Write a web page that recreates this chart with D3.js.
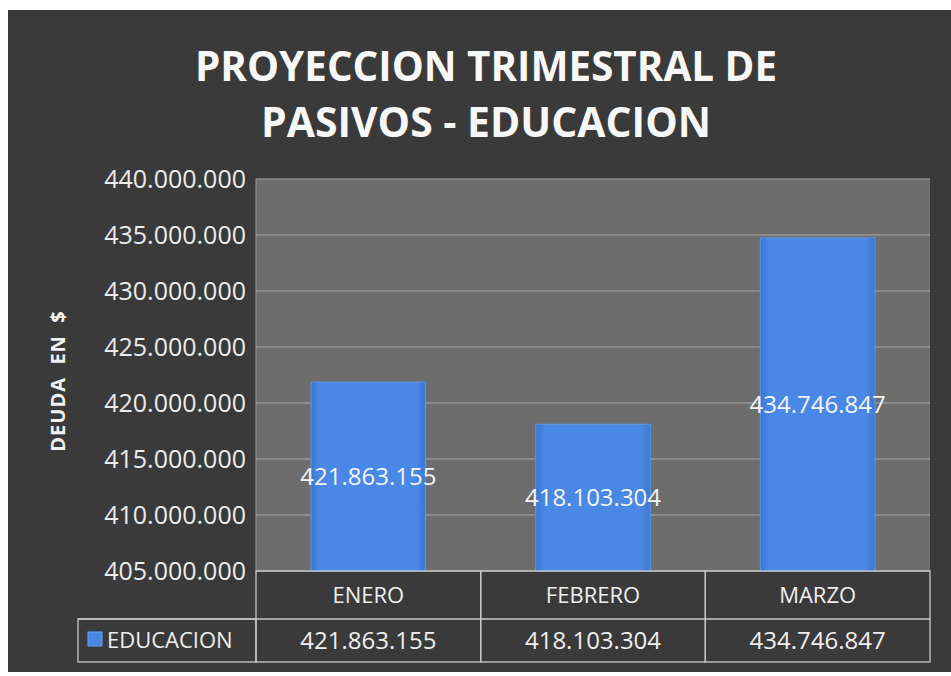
<!DOCTYPE html>
<html>
<head>
<meta charset="utf-8" />
<title>Proyeccion trimestral de pasivos</title>
<script src="https://d3js.org/d3.v7.min.js"></script>
<style>
  body { margin: 0; background: #fff; }
  text { font-family: "Open Sans", sans-serif; }
</style>
</head>
<body>
<div id="chart"></div>
<script>
  // data
  var months = ["ENERO", "FEBRERO", "MARZO"];
  var values = [421863155, 418103304, 434746847];
  var seriesName = "EDUCACION";
  var yTicks = [405000000, 410000000, 415000000, 420000000, 425000000, 430000000, 435000000, 440000000];
  var titleLines = ["PROYECCION TRIMESTRAL DE", "PASIVOS - EDUCACION"];
  var yTitle = "DEUDA  EN  $";

  var W = 951, H = 676;
  var plot = { left: 256, right: 930, top: 179, bottom: 571 };

  var fmt = d3.formatLocale({ decimal: ",", thousands: ".", grouping: [3], currency: ["$", ""] }).format(",d");

  var svg = d3.select("#chart").append("svg")
    .attr("width", W).attr("height", H);

  var defs = svg.append("defs");
  var grad = defs.append("linearGradient").attr("id", "barGrad")
    .attr("x1", 0).attr("x2", 1).attr("y1", 0).attr("y2", 0);
  grad.append("stop").attr("offset", "0%").attr("stop-color", "#3b78d6");
  grad.append("stop").attr("offset", "8%").attr("stop-color", "#4a88e6");
  grad.append("stop").attr("offset", "92%").attr("stop-color", "#4a88e6");
  grad.append("stop").attr("offset", "100%").attr("stop-color", "#3b78d6");

  // background
  svg.append("rect").attr("x", 8).attr("y", 10).attr("width", W - 8).attr("height", 662)
    .attr("fill", "#3a3a3a");

  var x = d3.scaleBand().domain(months).range([plot.left, plot.right]).padding(0);
  var y = d3.scaleLinear().domain([405000000, 440000000]).range([plot.bottom, plot.top]);

  svg.append("rect")
    .attr("x", plot.left).attr("y", plot.top)
    .attr("width", plot.right - plot.left).attr("height", plot.bottom - plot.top)
    .attr("fill", "#6d6d6d");

  // grid
  svg.append("g").selectAll("line").data(yTicks).join("line")
    .attr("x1", plot.left).attr("x2", plot.right)
    .attr("y1", d => y(d)).attr("y2", d => y(d))
    .attr("stroke", "#a9a9a9").attr("stroke-width", 1.2);

  svg.append("line").attr("x1", plot.left).attr("x2", plot.left)
    .attr("y1", plot.top).attr("y2", plot.bottom)
    .attr("stroke", "#9a9a9a");

  // y axis labels
  svg.append("g").selectAll("text").data(yTicks).join("text")
    .attr("x", 246).attr("y", d => y(d))
    .attr("dy", "0.36em")
    .attr("text-anchor", "end")
    .attr("fill", "#ececec")
    .style("font-size", "25px")
    .text(d => fmt(d));

  // axis title
  svg.append("text")
    .attr("transform", "translate(65,381) rotate(-90)")
    .attr("text-anchor", "middle")
    .attr("fill", "#f2f2f2")
    .style("font-size", "20px")
    .style("font-weight", "700")
    .style("letter-spacing", "1px")
    .style("white-space", "pre")
    .text(yTitle);

  // bars
  var barW = x.bandwidth() * 0.51;
  svg.append("g").selectAll("rect").data(values).join("rect")
    .attr("x", (d, i) => x(months[i]) + (x.bandwidth() - barW) / 2)
    .attr("y", d => y(d))
    .attr("width", barW)
    .attr("height", d => y.range()[0] - y(d))
    .attr("fill", "url(#barGrad)")
    .attr("stroke", "#5f95e6").attr("stroke-width", 1);

  svg.append("g").selectAll("text").data(values).join("text")
    .attr("x", (d, i) => x(months[i]) + x.bandwidth() / 2)
    .attr("y", d => (y(d) + y.range()[0]) / 2)
    .attr("dy", "0.36em")
    .attr("text-anchor", "middle")
    .attr("fill", "#f4f4f4")
    .style("font-size", "24px")
    .text(d => fmt(d));

  // data table
  var row1 = [571, 619], row2 = [619, 662];
  var tbl = svg.append("g").attr("stroke", "#c9c9c9").attr("stroke-width", 1.3).attr("fill", "none");
  months.forEach(function (m) {
    tbl.append("rect").attr("x", x(m)).attr("y", row1[0])
      .attr("width", x.bandwidth()).attr("height", row2[1] - row1[0]);
  });
  tbl.append("line").attr("x1", 78).attr("x2", plot.right).attr("y1", row2[0]).attr("y2", row2[0]);
  tbl.append("rect").attr("x", 78).attr("y", row2[0]).attr("width", plot.left - 78).attr("height", row2[1] - row2[0]);

  svg.append("g").selectAll("text").data(months).join("text")
    .attr("x", d => x(d) + x.bandwidth() / 2)
    .attr("y", (row1[0] + row1[1]) / 2)
    .attr("dy", "0.36em")
    .attr("text-anchor", "middle")
    .attr("fill", "#efefef")
    .style("font-size", "22px")
    .text(d => d);

  svg.append("g").selectAll("text").data(values).join("text")
    .attr("x", (d, i) => x(months[i]) + x.bandwidth() / 2)
    .attr("y", (row2[0] + row2[1]) / 2)
    .attr("dy", "0.36em")
    .attr("text-anchor", "middle")
    .attr("fill", "#efefef")
    .style("font-size", "24px")
    .text(d => fmt(d));

  svg.append("rect").attr("x", 88).attr("y", 632).attr("width", 14).attr("height", 14)
    .attr("fill", "#4a88e6").attr("stroke", "#6aa0ee");
  svg.append("text")
    .attr("x", 107).attr("y", (row2[0] + row2[1]) / 2)
    .attr("dy", "0.36em")
    .attr("fill", "#efefef")
    .style("font-size", "22px")
    .text(seriesName);

  // title, two lines
  svg.append("g").selectAll("text").data(titleLines).join("text")
    .attr("x", 486)
    .attr("y", (d, i) => 81 + i * 56)
    .attr("text-anchor", "middle")
    .attr("fill", "#f7f7f7")
    .style("font-size", "41px")
    .style("font-weight", "700")
    .attr("textLength", (d, i) => i === 0 ? 582 : 450)
    .attr("lengthAdjust", "spacingAndGlyphs")
    .text(d => d);
</script>
</body>
</html>
